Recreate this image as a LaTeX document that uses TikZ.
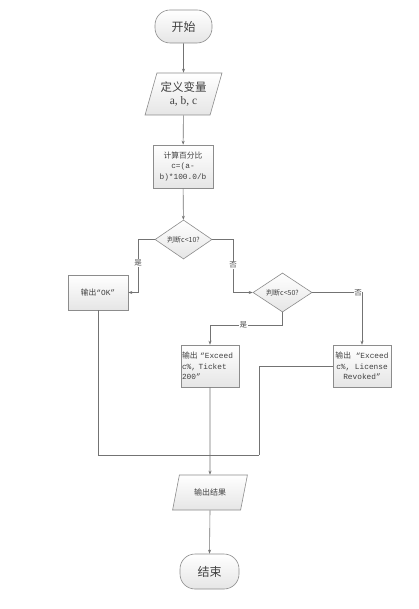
\documentclass[tikz,border=0pt]{standalone}
\usepackage{fontspec}
\setmainfont{Liberation Serif}
\newfontfamily\cjk{Noto Sans CJK SC}
\newfontfamily\mono{Liberation Mono}
\usetikzlibrary{shapes.geometric,arrows.meta}
\begin{document}
\begin{tikzpicture}[x=1pt,y=-1pt,
  base/.style={draw=black!45, top color=white, bottom color=black!10, line width=0.6pt, inner sep=1pt, align=center, text=black!75},
  term/.style={base, rounded corners=15pt, minimum width=57pt, minimum height=33pt, font=\cjk\fontsize{12}{14}\selectfont},
  proc/.style={base, minimum width=59pt, minimum height=42pt, font=\fontsize{7.8}{10.5}\selectfont},
  io/.style={base, trapezium, trapezium left angle=68, trapezium right angle=112, trapezium stretches=true},
  dec/.style={base, diamond, minimum width=57pt, minimum height=33pt, inner sep=0pt, font=\cjk\fontsize{7}{8}\selectfont},
  line/.style={draw=black!55, line width=0.6pt},
  arr/.style={line, -{Stealth[length=4pt,width=3pt]}},
  lab/.style={font=\cjk\fontsize{7.5}{8}\selectfont, fill=white, inner sep=0.5pt, text=black!70}
]
\useasboundingbox (0,0) rectangle (419,609);
\fill[white] (0,0) rectangle (419,609);

\node[term] (start) at (183.5,26.5) {开始};
\node[io, minimum width=77pt, minimum height=42pt, font=\fontsize{11.5}{13}\selectfont] (var) at (183.5,94) {{\cjk 定义变量}\\a, b, c};
\node[proc, minimum width=60pt, minimum height=43pt] (calc) at (183,166.5) {{\cjk 计算百分比}\\{\mono c=(a-}\\{\mono b)*100.0/b}};
\node[dec] (d1) at (183.5,239.5) {判断c<10?};
\node[proc, minimum width=60pt, minimum height=35pt] (ok) at (98,292.5) {{\cjk 输出}{\mono“OK”}};
\node[dec, minimum width=59pt, minimum height=35pt] (d2) at (282.5,292.5) {判断c<50?};
\node[proc, minimum width=58pt, minimum height=42pt, text width=56pt, align=left] (tk) at (210,366) {{\cjk 输出}{\mono\ “Exceed}\\{\mono c\%, Ticket}\\{\mono 200”}};
\node[proc, minimum width=58pt, minimum height=42pt] (lic) at (362,366) {{\cjk 输出}{\mono\ “Exceed}\\{\mono c\%, License}\\{\mono Revoked”}};
\node[io, minimum width=75pt, minimum height=35pt, font=\cjk\fontsize{8}{10}\selectfont] (out) at (210,492.5) {输出结果};
\node[term, minimum width=59pt, minimum height=35pt] (end) at (209.5,571.5) {结束};

\coordinate (k1) at (138,239.5);
\coordinate (k2) at (233,239.5);
\coordinate (k3) at (210,325);
\coordinate (k5) at (259,455);

\draw[arr] (start) -- (var);
\draw[arr] (var) -- (calc);
\draw[arr] (calc) -- (d1);
\draw[arr] (d1.west) -- (k1) |- node[lab,pos=0.22]{是} (ok.east);
\draw[arr] (d1.east) -- (k2) |- node[lab,pos=0.24]{否} (d2.west);
\draw[line] (d2.south) |- node[lab,pos=0.77]{是} (k3);
\draw[arr] (k3) -- (tk.north);
\draw[arr] (d2.east) -| node[lab,pos=0.46]{否} (lic.north);
\draw[line] (ok.south) |- (k5);
\draw[line] (lic.west) -| (k5);
\draw[arr] (tk.south) -- (out.north);
\draw[arr] (out.south) -- (end.north);
\end{tikzpicture}
\end{document}
